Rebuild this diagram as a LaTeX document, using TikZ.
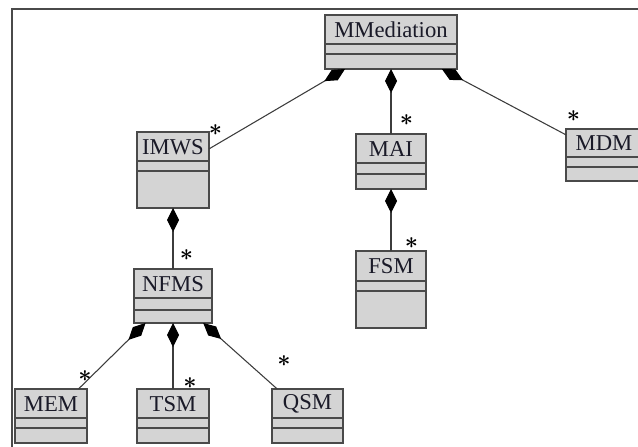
\documentclass[tikz,border=0pt]{standalone}
\usepackage{fontspec}
\setmainfont{Liberation Serif}
\usetikzlibrary{arrows.meta,calc}
\definecolor{boxfill}{HTML}{D4D4D4}
\definecolor{boxline}{HTML}{4A4A4A}
\definecolor{wire}{HTML}{3C3C3C}
\definecolor{ink}{HTML}{1A1A28}
\tikzset{
  classbox/.style={draw=boxline, fill=boxfill, line width=1.1pt, inner sep=0pt, outer sep=0pt},
  classrule/.style={draw=boxline, line width=1.1pt},
  classname/.style={inner sep=0pt, font=\fontsize{17}{19}\selectfont, text=ink},
  mult/.style={inner sep=0pt, font=\fontsize{16}{16}\selectfont\boldmath},
  compose/.style={draw=wire, line width=0.8pt, arrows={Diamond[length=18pt,width=9pt,color=black]-}},
  frameline/.style={draw=boxline, line width=1.5pt}
}
% UML class: id, label, left, top, right, bottom, first rule, second rule (y grows downward)
\newcommand\umlclass[8]{%
  \node[classbox, minimum width={(#5-#3)*0.75pt}, minimum height={(#6-#4)*0.75pt}] (#1) at ({(#3+#5)/2},{(#4+#6)/2}) {};
  \draw[classrule] (#3,#7) -- (#5,#7) (#3,#8) -- (#5,#8);
  \node[classname] (#1-name) at ({(#3+#5)/2},{(#4+#7)/2+0.5}) {#2};
}
\begin{document}
\begin{tikzpicture}[x=0.75pt, y=-0.75pt]
  \useasboundingbox (0,0) rectangle (638,446);
  \clip (0,0) rectangle (638,446);

  % diagram frame
  \draw[frameline] (12,450) -- (12,9) -- (642,9);

  % classes
  \umlclass{mmed}{MMediation}{325}{15}{457}{69}{44}{54}
  \umlclass{imws}{IMWS}{137}{132}{209}{208}{161}{171}
  \umlclass{mai}{MAI}{356}{134}{426}{189}{163}{174}
  \umlclass{mdm}{MDM}{566}{129}{642}{181}{157}{167}
  \umlclass{fsm}{FSM}{356}{251}{426}{328}{281}{291}
  \umlclass{nfms}{NFMS}{134}{269}{212}{323}{298}{310}
  \umlclass{mem}{MEM}{15}{389}{87}{443}{418}{428}
  \umlclass{tsm}{TSM}{137}{389}{209}{443}{418}{428}
  \umlclass{qsm}{QSM}{272}{389}{343}{443}{418}{428}

  % composition associations
  \draw[compose] (mmed) -- (imws);
  \draw[compose] (mmed) -- (mai);
  \draw[compose] (mmed) -- (mdm);
  \draw[compose] (imws) -- (nfms);
  \draw[compose] (mai) -- (fsm);
  \draw[compose] (nfms) -- (mem);
  \draw[compose] (nfms) -- (tsm);
  \draw[compose] (nfms) -- (qsm);

  % multiplicities
  \node[mult] (m-imws) at (215.5,130) {$\ast$};
  \node[mult] (m-mai)  at (406.5,120.5) {$\ast$};
  \node[mult] (m-mdm)  at (573.5,116.5) {$\ast$};
  \node[mult] (m-fsm)  at (411.5,243) {$\ast$};
  \node[mult] (m-nfms) at (186.5,255) {$\ast$};
  \node[mult] (m-mem)  at (85,376.5) {$\ast$};
  \node[mult] (m-tsm)  at (190,383) {$\ast$};
  \node[mult] (m-qsm)  at (284,361.5) {$\ast$};
\end{tikzpicture}
\end{document}
